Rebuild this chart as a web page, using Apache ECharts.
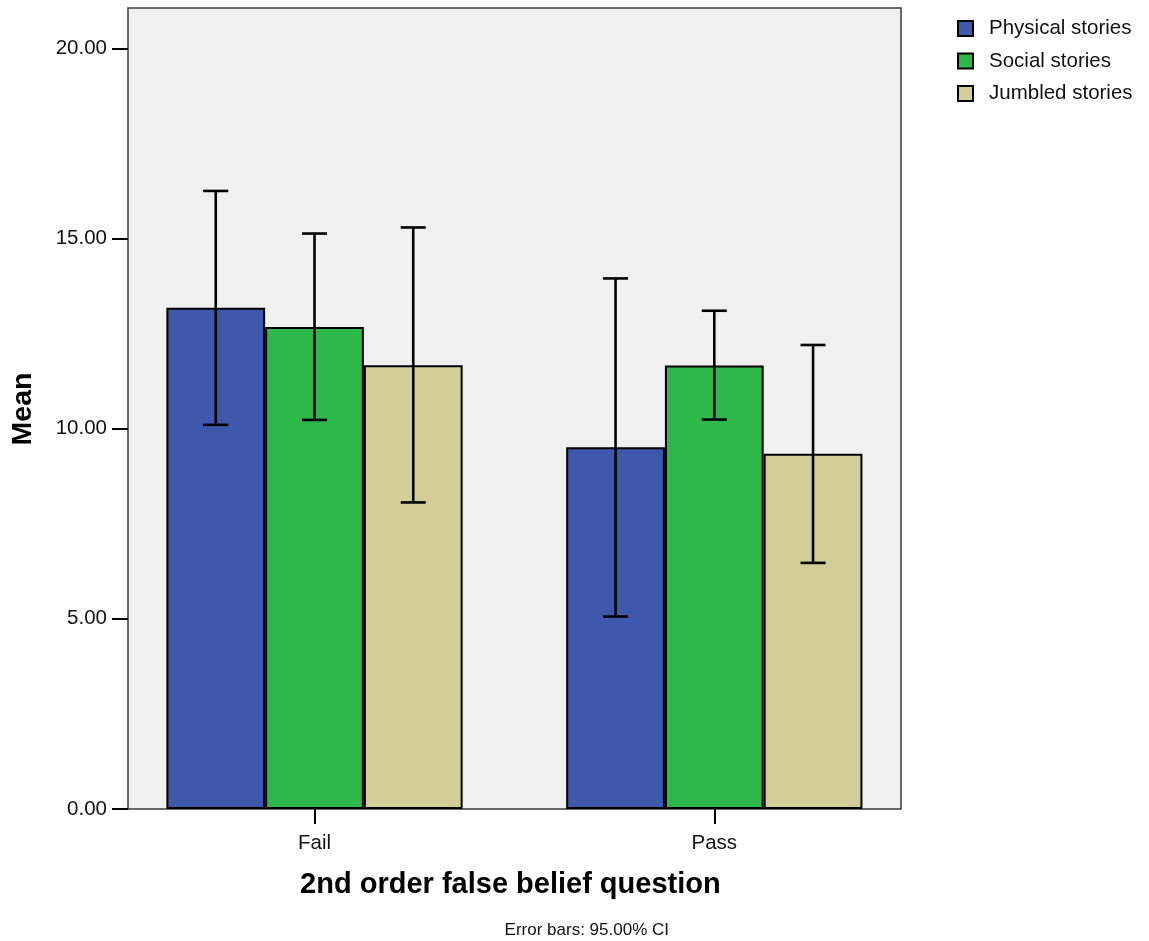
<!DOCTYPE html>
<html>
<head>
<meta charset="utf-8">
<script src="https://cdn.jsdelivr.net/npm/echarts@6/dist/echarts.min.js"></script>
<style>
html,body{margin:0;padding:0;background:#fff;}
#chart{width:1149px;height:941px;}
</style>
</head>
<body>
<div id="chart"></div>
<script>
// ---- data ----
const categories = ['Fail', 'Pass'];
const seriesNames = ['Physical stories', 'Social stories', 'Jumbled stories'];
const physicalMean = [13.18, 9.51];
const physicalLow = [10.10, 5.06];
const physicalHigh = [16.25, 13.95];
const socialMean = [12.67, 11.66];
const socialLow = [10.23, 10.24];
const socialHigh = [15.13, 13.10];
const jumbledMean = [11.67, 9.34];
const jumbledLow = [8.06, 6.47];
const jumbledHigh = [15.29, 12.20];
const yTicks = [0, 5, 10, 15, 20];
const xTitle = '2nd order false belief question';
const yTitle = 'Mean';
const footnote = 'Error bars: 95.00% CI';

// ---- styling ----
const FONT = '"Liberation Sans", Arial, Helvetica, sans-serif';
const colors = ['#3e59ab', '#2fb84a', '#d3ce98'];
const BAR_FRAC = 0.247;
const means = [physicalMean, socialMean, jumbledMean];
const lows = [physicalLow, socialLow, jumbledLow];
const highs = [physicalHigh, socialHigh, jumbledHigh];

const chart = echarts.init(document.getElementById('chart'), null, {renderer: 'canvas'});

const series = [];
means.forEach((m, si) => {
  series.push({
    name: seriesNames[si],
    type: 'bar',
    barWidth: (BAR_FRAC * 100) + '%',
    barGap: '0%',
    data: m.map((v, ci) => [ci, v]),
    itemStyle: {color: colors[si], borderColor: '#000', borderWidth: 2},
    emphasis: {disabled: true},
    z: 2
  });
});
means.forEach((m, si) => {
  series.push({
    name: seriesNames[si] + ' CI',
    type: 'custom',
    z: 5,
    silent: true,
    data: m.map((v, ci) => [ci, lows[si][ci], highs[si][ci]]),
    encode: {x: 0, y: [1, 2]},
    renderItem: function (params, api) {
      const x = api.value(0);
      const lo = api.value(1), hi = api.value(2);
      const unit = api.size([1, 0])[0];
      const off = (si - 1) * BAR_FRAC * unit;
      const pLo = api.coord([x, lo]);
      const pHi = api.coord([x, hi]);
      const cx = pLo[0] + off;
      const half = 12.5;
      const st = {stroke: '#000', lineWidth: 2.6};
      return {
        type: 'group',
        children: [
          {type: 'line', shape: {x1: cx, y1: pLo[1], x2: cx, y2: pHi[1]}, style: st},
          {type: 'line', shape: {x1: cx - half, y1: pLo[1], x2: cx + half, y2: pLo[1]}, style: st},
          {type: 'line', shape: {x1: cx - half, y1: pHi[1], x2: cx + half, y2: pHi[1]}, style: st}
        ]
      };
    }
  });
});

const option = {
  backgroundColor: '#ffffff',
  animation: false,
  textStyle: {fontFamily: FONT},
  grid: {
    left: 128, top: 8, right: 248, bottom: 132,
    show: true, backgroundColor: '#f0f0f0', borderColor: '#3a3a3a', borderWidth: 1.5,
    containLabel: false
  },
  legend: {
    orient: 'vertical',
    left: 957,
    top: 18,
    padding: 0,
    itemWidth: 15,
    itemHeight: 15,
    itemGap: 11.5,
    icon: 'rect',
    data: seriesNames,
    selectedMode: false,
    itemStyle: {borderColor: '#000', borderWidth: 2},
    textStyle: {fontFamily: FONT, fontSize: 20.5, color: '#111', lineHeight: 20, padding: [0, 0, 0, 11]}
  },
  xAxis: {
    type: 'value',
    min: -0.4665,
    max: 1.467,
    splitLine: {show: false},
    axisLine: {show: false, onZero: false},
    axisTick: {show: true, customValues: [0, 1], length: 15, lineStyle: {color: '#000', width: 2}},
    axisLabel: {
      customValues: [0, 1],
      formatter: v => categories[Math.round(v)] || '',
      margin: 24,
      fontFamily: FONT, fontSize: 20.5, color: '#111'
    }
  },
  yAxis: {
    type: 'value',
    min: 0,
    max: 21.06,
    splitLine: {show: false},
    axisLine: {show: false, onZero: false},
    axisTick: {show: true, customValues: yTicks, length: 16, lineStyle: {color: '#000', width: 2}},
    axisLabel: {
      customValues: yTicks,
      formatter: v => Number(v).toFixed(2),
      margin: 21,
      fontFamily: FONT, fontSize: 20.5, color: '#111'
    }
  },
  graphic: [
    {type: 'text', x: 510.4, y: 885, silent: true,
     style: {text: xTitle, textAlign: 'center', textVerticalAlign: 'middle', fontFamily: FONT, fontSize: 29, fontWeight: 'bold', fill: '#000'}},
    {type: 'text', x: 23, y: 409, rotation: Math.PI / 2, silent: true,
     style: {text: yTitle, textAlign: 'center', textVerticalAlign: 'middle', fontFamily: FONT, fontSize: 28.5, fontWeight: 'bold', fill: '#000'}},
    {type: 'text', x: 586.8, y: 930, silent: true,
     style: {text: footnote, textAlign: 'center', textVerticalAlign: 'middle', fontFamily: FONT, fontSize: 17, fill: '#111'}}
  ],
  series: series
};
chart.setOption(option);
</script>
</body>
</html>
